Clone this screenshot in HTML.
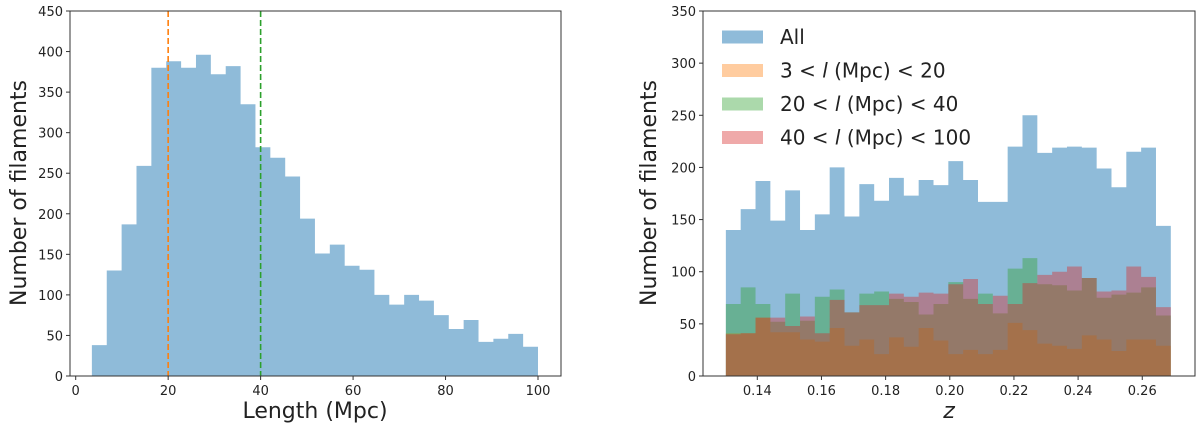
<!DOCTYPE html>
<html><head><meta charset="utf-8"><style>
body{margin:0;background:#fff}
svg text{font-family:"DejaVu Sans","Liberation Sans",sans-serif;fill:#222}
</style></head><body>
<svg id="c" width="1200" height="428" xmlns="http://www.w3.org/2000/svg"></svg>
<script>
const lenEdgesStart = 3.5, lenEdgesEnd = 100;
const lenCounts = [38,130,187,259,380,388,380,396,372,382,335,282,269,246,194,151,162,136,131,100,88,100,93,75,58,69,42,46,52,36];
const lenTicks = [0,20,40,60,80,100];
const lenYTicks = [0,50,100,150,200,250,300,350,400,450];
const lenMarkers = [20,40];
const zStart = 0.1302, zEnd = 0.2689;
const allCounts = [140,160,187,149,178,140,155,200,153,184,168,190,173,188,183,206,188,167,167,220,250,214,219,220,219,199,181,215,219,144];
const shortCounts = [41,41,56,42,42,35,33,46,29,35,21,37,28,46,34,21,25,21,25,51,44,31,29,26,39,35,24,35,35,29];
const midCounts = [69,85,69,52,79,53,76,83,61,79,81,74,71,59,69,90,74,79,60,103,113,88,87,82,94,75,78,80,85,58];
const longCounts = [40,41,56,56,48,57,41,73,61,68,68,79,76,80,79,88,93,69,77,69,89,97,100,105,94,81,82,105,95,66];
const zTicks = [0.14,0.16,0.18,0.20,0.22,0.24,0.26];
const zYTicks = [0,50,100,150,200,250,300,350];
const legendLabels = ["All","3 < ","20 < ","40 < "];
const legendTails = [""," (Mpc) < 20"," (Mpc) < 40"," (Mpc) < 100"];

const NS="http://www.w3.org/2000/svg", svg=document.getElementById('c');
function mk(tag,attrs,parent){const e=document.createElementNS(NS,tag);for(const k in attrs)e.setAttribute(k,attrs[k]);(parent||svg).appendChild(e);return e;}

// Left chart
const L={x0:70,x1:561,y0:11,y1:376};
const lx=v=>75.7+(v-0)*4.623, ly=v=>376-v*365/450;
const gL=mk('g',{});


const bw=(lenEdgesEnd-lenEdgesStart)/lenCounts.length;
let d='M'+lx(lenEdgesStart)+','+ly(0);
lenCounts.forEach((c,i)=>{d+=' L'+lx(lenEdgesStart+i*bw)+','+ly(c)+' L'+lx(lenEdgesStart+(i+1)*bw)+','+ly(c);});
d+=' L'+lx(lenEdgesEnd)+','+ly(0)+'Z';
const p=mk('path',{d:d,fill:'#1f77b4','fill-opacity':0.5},gL);


['#ff7f0e','#2ca02c'].forEach((col,i)=>{
 const l=mk('line',{x1:lx(lenMarkers[i]),x2:lx(lenMarkers[i]),y1:L.y0,y2:L.y1,stroke:col,'stroke-width':1.6,'stroke-dasharray':'6,3'},gL);
 
 
});
mk('rect',{x:L.x0,y:L.y0,width:L.x1-L.x0,height:L.y1-L.y0,fill:'none',stroke:'#333','stroke-width':1},gL);
lenYTicks.forEach(v=>{mk('line',{x1:L.x0-4,x2:L.x0,y1:ly(v),y2:ly(v),stroke:'#333'},gL);
 const t=mk('text',{x:L.x0-7,y:ly(v)+5,'text-anchor':'end','font-size':13},gL);t.textContent=v;
 });
lenTicks.forEach(v=>{mk('line',{x1:lx(v),x2:lx(v),y1:L.y1,y2:L.y1+4,stroke:'#333'},gL);
 const t=mk('text',{x:lx(v),y:L.y1+19,'text-anchor':'middle','font-size':13},gL);t.textContent=v;
 });
let t=mk('text',{x:315,y:418,'text-anchor':'middle','font-size':22});t.textContent='Length (Mpc)';

t=mk('text',{x:0,y:0,'text-anchor':'middle','font-size':22,transform:'translate(26,193) rotate(-90)'});t.textContent='Number of filaments';


// Right chart
const R={x0:703,x1:1195,y0:11,y1:376};
const rx=v=>757.3+(v-0.14)*3208, ry=v=>376-v*365/350;
const gR=mk('g',{});


const zw=(zEnd-zStart)/allCounts.length;
const series=[[allCounts,'#1f77b4',0.5,'bars-all'],[shortCounts,'#ff7f0e',0.4,'bars-short'],[midCounts,'#2ca02c',0.4,'bars-mid'],[longCounts,'#d62728',0.4,'bars-long']];
series.forEach(s=>{
 let dd='M'+rx(zStart)+','+ry(0);
 s[0].forEach((c,i)=>{dd+=' L'+rx(zStart+i*zw)+','+ry(c)+' L'+rx(zStart+(i+1)*zw)+','+ry(c);});
 dd+=' L'+rx(zEnd)+','+ry(0)+'Z';
 const e=mk('path',{d:dd,fill:s[1],'fill-opacity':s[2]},gR);
 
 
});
mk('rect',{x:R.x0,y:R.y0,width:R.x1-R.x0,height:R.y1-R.y0,fill:'none',stroke:'#333','stroke-width':1},gR);
zYTicks.forEach(v=>{mk('line',{x1:R.x0-4,x2:R.x0,y1:ry(v),y2:ry(v),stroke:'#333'},gR);
 const t=mk('text',{x:R.x0-7,y:ry(v)+5,'text-anchor':'end','font-size':13},gR);t.textContent=v;
 });
zTicks.forEach(v=>{mk('line',{x1:rx(v),x2:rx(v),y1:R.y1,y2:R.y1+4,stroke:'#333'},gR);
 const t=mk('text',{x:rx(v),y:R.y1+19,'text-anchor':'middle','font-size':13},gR);t.textContent=v.toFixed(2);
 });
t=mk('text',{x:949,y:418,'text-anchor':'middle','font-size':22,'font-style':'italic'});t.textContent='z';

t=mk('text',{x:0,y:0,'text-anchor':'middle','font-size':22,transform:'translate(656,193) rotate(-90)'});t.textContent='Number of filaments';


// Legend
const gLeg=mk('g',{});


series.forEach((s,i)=>{
 const yc=37+i*33.5;
 const r=mk('rect',{x:722,y:yc-6.5,width:41,height:13,fill:s[1],'fill-opacity':s[2]},gLeg);
 
 
 const tx=mk('text',{x:780,y:yc+7,'font-size':20},gLeg);
 
 
 tx.appendChild(document.createTextNode(legendLabels[i]));
 if(i>0){const it=document.createElementNS(NS,'tspan');it.setAttribute('font-style','italic');it.textContent='l';tx.appendChild(it);
  tx.appendChild(document.createTextNode(legendTails[i]));}
});
</script>
</body></html>
